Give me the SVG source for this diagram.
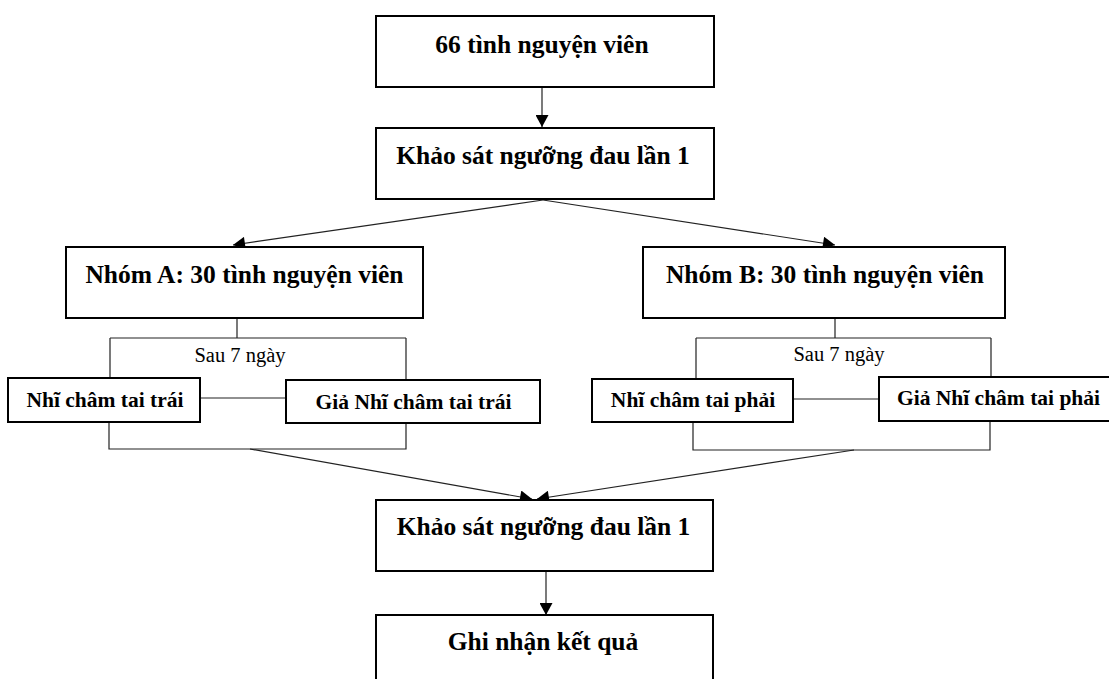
<svg xmlns="http://www.w3.org/2000/svg" width="1109" height="679" viewBox="0 0 1109 679">
  <defs>
    <marker id="arr" markerWidth="13" markerHeight="13" viewBox="0 0 12 13" refX="12" refY="6.5" orient="auto" markerUnits="userSpaceOnUse">
      <path d="M0,0 L12,6.5 L0,13 Z" fill="#000"/>
    </marker>
    <style>
      .box { fill: #fff; stroke: #000; stroke-width: 2; }
      .big { font-family: "Liberation Serif", "Times New Roman", serif; font-weight: bold; font-size: 25.5px; fill: #000; text-anchor: middle; }
      .small { font-family: "Liberation Serif", "Times New Roman", serif; font-weight: bold; font-size: 21.5px; fill: #000; text-anchor: middle; }
      .lbl { font-family: "Liberation Serif", "Times New Roman", serif; font-size: 20.5px; fill: #000; text-anchor: middle; }
      .ln { fill: none; stroke: #222; stroke-width: 1.2; }
    </style>
  </defs>
  <rect width="1109" height="679" fill="#fff"/>

  <g id="connectors">
    <line class="ln" x1="542" y1="88" x2="542" y2="127" marker-end="url(#arr)"/>
    <line class="ln" x1="543" y1="200" x2="233" y2="245" marker-end="url(#arr)"/>
    <line class="ln" x1="543" y1="200" x2="835" y2="245" marker-end="url(#arr)"/>
    <!-- group A bracket -->
    <path class="ln" d="M237,318 V338 M110,338 H406 M110,338 V378 M406,338 V380"/>
    <line class="ln" x1="200" y1="398" x2="286" y2="398"/>
    <path class="ln" d="M109,422 V449 H406 V423"/>
    <!-- group B bracket -->
    <path class="ln" d="M835,318 V338 M696,338 H991 M696,338 V379 M991,338 V377"/>
    <line class="ln" x1="793" y1="399" x2="879" y2="399"/>
    <path class="ln" d="M693,422 V450 H990 V421"/>
    <!-- converging -->
    <line class="ln" x1="250" y1="449" x2="532" y2="499" marker-end="url(#arr)"/>
    <line class="ln" x1="854" y1="450" x2="537" y2="499" marker-end="url(#arr)"/>
    <line class="ln" x1="546" y1="572" x2="546" y2="615" marker-end="url(#arr)"/>
  </g>

  <g id="n1">
    <rect class="box" x="376" y="16" width="338" height="71"/>
    <text class="big" x="542" y="53">66 tình nguyện viên</text>
  </g>
  <g id="n2">
    <rect class="box" x="376" y="128" width="338" height="71"/>
    <text class="big" x="543" y="164">Khảo sát ngưỡng đau lần 1</text>
  </g>
  <g id="nA">
    <rect class="box" x="66" y="247" width="357" height="71"/>
    <text class="big" x="244.5" y="283">Nhóm A: 30 tình nguyện viên</text>
  </g>
  <g id="nB">
    <rect class="box" x="643" y="247" width="362" height="71"/>
    <text class="big" x="825" y="283">Nhóm B: 30 tình nguyện viên</text>
  </g>
  <g id="lblA">
    <text class="lbl" x="240" y="362">Sau 7 ngày</text>
  </g>
  <g id="lblB">
    <text class="lbl" x="839" y="361">Sau 7 ngày</text>
  </g>
  <g id="nA1">
    <rect class="box" x="8" y="378" width="192" height="44"/>
    <text class="small" x="105" y="407">Nhĩ châm tai trái</text>
  </g>
  <g id="nA2">
    <rect class="box" x="286" y="380" width="254" height="43"/>
    <text class="small" x="413.5" y="409">Giả Nhĩ châm tai trái</text>
  </g>
  <g id="nB1">
    <rect class="box" x="592" y="379" width="201" height="43"/>
    <text class="small" x="693" y="407">Nhĩ châm tai phải</text>
  </g>
  <g id="nB2">
    <rect class="box" x="879" y="377" width="240" height="44"/>
    <text class="small" x="998.5" y="405">Giả Nhĩ châm tai phải</text>
  </g>
  <g id="n3">
    <rect class="box" x="376" y="500" width="337" height="71"/>
    <text class="big" x="543.5" y="535">Khảo sát ngưỡng đau lần 1</text>
  </g>
  <g id="n4">
    <rect class="box" x="376" y="615" width="337" height="80"/>
    <text class="big" x="543" y="650">Ghi nhận kết quả</text>
  </g>
</svg>
